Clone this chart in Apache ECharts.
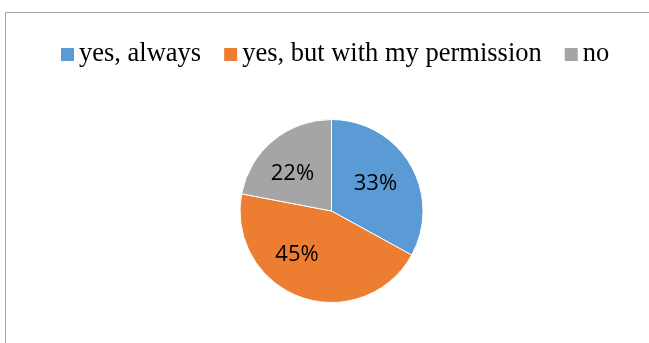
<!DOCTYPE html>
<html>
<head>
<meta charset="utf-8">
<script src="https://cdn.jsdelivr.net/npm/echarts@6/dist/echarts.min.js"></script>
<style>
  html, body { margin: 0; padding: 0; background: #fff; }
  #chart { width: 649px; height: 343px; }
</style>
</head>
<body>
<div id="chart"></div>
<script>
// Survey answers, shares in percent
const categories = ['yes, always', 'yes, but with my permission', 'no'];
const shares = [33, 45, 22];
const sliceColors = ['#5b9bd5', '#ed7d31', '#a5a5a5'];

const pieCenter = [331.5, 211];
const pieRadius = 91.5;
// small nudges for the in-slice percentage labels, in px
const labelNudges = [[2, -2], [-18, -2], [-8, 0]];

const chart = echarts.init(document.getElementById('chart'), null, { renderer: 'canvas' });

chart.setOption({
  animation: false,
  backgroundColor: '#ffffff',
  color: sliceColors,
  graphic: [{
    type: 'rect',
    shape: { x: 5.5, y: 12.5, width: 700, height: 400 },
    style: { fill: 'none', stroke: '#a6a6a6', lineWidth: 1 },
    silent: true,
    z: -1
  }],
  legend: {
    left: 61,
    top: 41,
    padding: 0,
    itemWidth: 13,
    itemHeight: 13,
    itemGap: 23,
    icon: 'rect',
    itemStyle: { borderWidth: 0 },
    textStyle: {
      fontFamily: '"Liberation Serif", "DejaVu Serif", serif',
      fontSize: 26.5,
      color: '#000000',
      padding: [0, 0, 0, 0]
    },
    data: categories
  },
  series: [{
    type: 'pie',
    center: pieCenter,
    radius: [0, pieRadius],
    startAngle: 90,
    clockwise: true,
    avoidLabelOverlap: false,
    itemStyle: { borderColor: '#ffffff', borderWidth: 1 },
    label: {
      show: true,
      position: 'inside',
      formatter: '{c}%',
      fontFamily: '"Open Sans", "Noto Sans", sans-serif',
      fontSize: 22,
      color: '#000000'
    },
    labelLine: { show: false },
    labelLayout: function (params) {
      const n = labelNudges[params.dataIndex] || [0, 0];
      return { dx: n[0], dy: n[1] };
    },
    data: categories.map((name, i) => ({ name: name, value: shares[i] }))
  }]
});
</script>
</body>
</html>
